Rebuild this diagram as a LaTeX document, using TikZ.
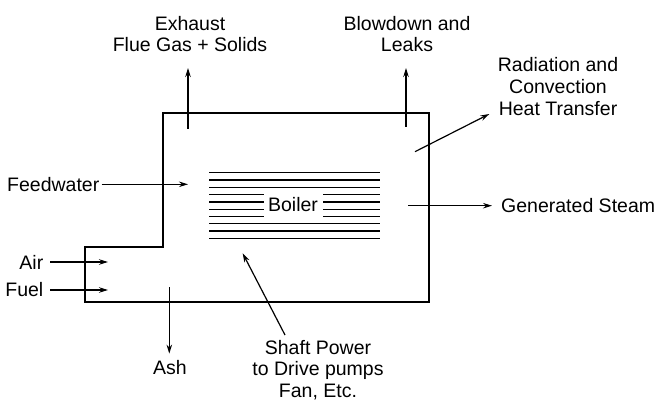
\documentclass[tikz,border=0pt]{standalone}
\usepackage{fontspec}
\setmainfont{Liberation Sans}
\usetikzlibrary{arrows.meta}
\begin{document}
\begin{tikzpicture}[x=1pt,y=-1pt,
  lbl/.style={font=\fontsize{19.5}{21.7}\selectfont, align=center, inner sep=0pt},
  arr/.style={-{Stealth[length=9pt,width=5.5pt]}, line width=1.2pt},
  wall/.style={line width=1.5pt},
  tube/.style={line width=1.3pt}]
\useasboundingbox (0,0) rectangle (656,401);
% outline of the boiler
\draw[wall] (163,113) -- (429,113) -- (429,302) -- (85,302) -- (85,247) -- (163,247) -- cycle;
% tubes
\foreach \i in {0,1,2,7,8,9}{
  \draw[tube] (209,172.7+7.29*\i) -- (380,172.7+7.29*\i);
}
\foreach \i in {3,4,5,6}{
  \draw[tube] (209,172.7+7.29*\i) -- (264,172.7+7.29*\i);
  \draw[tube] (323,172.7+7.29*\i) -- (380,172.7+7.29*\i);
}
\node[lbl] (boiler) at (293,205) {Boiler};
% labels
\node[lbl] (exh) at (190,34) {Exhaust\\Flue Gas + Solids};
\node[lbl] (blow) at (407,34) {Blowdown and\\Leaks};
\node[lbl] (rad) at (558,86.5) {Radiation and\\Convection\\Heat Transfer};
\node[lbl, anchor=east] (feed) at (99.5,184.3) {Feedwater};
\node[lbl, anchor=west] (steam) at (501,205.7) {Generated Steam};
\node[lbl, anchor=east] (air) at (43.5,262) {Air};
\node[lbl, anchor=east] (fuel) at (43.5,290) {Fuel};
\node[lbl] (ash) at (170,368) {Ash};
\node[lbl] (shaft) at (318,370) {Shaft Power\\to Drive pumps\\Fan, Etc.};
% coordinates
\coordinate (exA) at (188,129);
\coordinate (exB) at (188,68);
\coordinate (blA) at (406,127);
\coordinate (blB) at (406,68);
\coordinate (raA) at (415,151.7);
\coordinate (raB) at (489.3,114);
\coordinate (fwB) at (188,184.3);
\coordinate (stA) at (408,205.7);
\coordinate (aiB) at (108,262);
\coordinate (fuB) at (108,290);
\coordinate (asA) at (169.3,287);
\coordinate (shA) at (285,335);
\coordinate (shB) at (242.7,253.3);
% connectors
\draw[arr] (exA) -- (exB);
\draw[arr] (blA) -- (blB);
\draw[arr] (raA) -- (raB);
\draw[arr] ([xshift=2pt]feed.east) -- (fwB);
\draw[arr] (stA) -- ([xshift=-9pt]steam.west);
\draw[arr] ([xshift=6.5pt]air.east) -- (aiB);
\draw[arr] ([xshift=6.5pt]fuel.east) -- (fuB);
\draw[arr, shorten >=7pt] (asA) -- (asA |- ash.north);
\draw[arr] (shA) -- (shB);
\end{tikzpicture}
\end{document}
